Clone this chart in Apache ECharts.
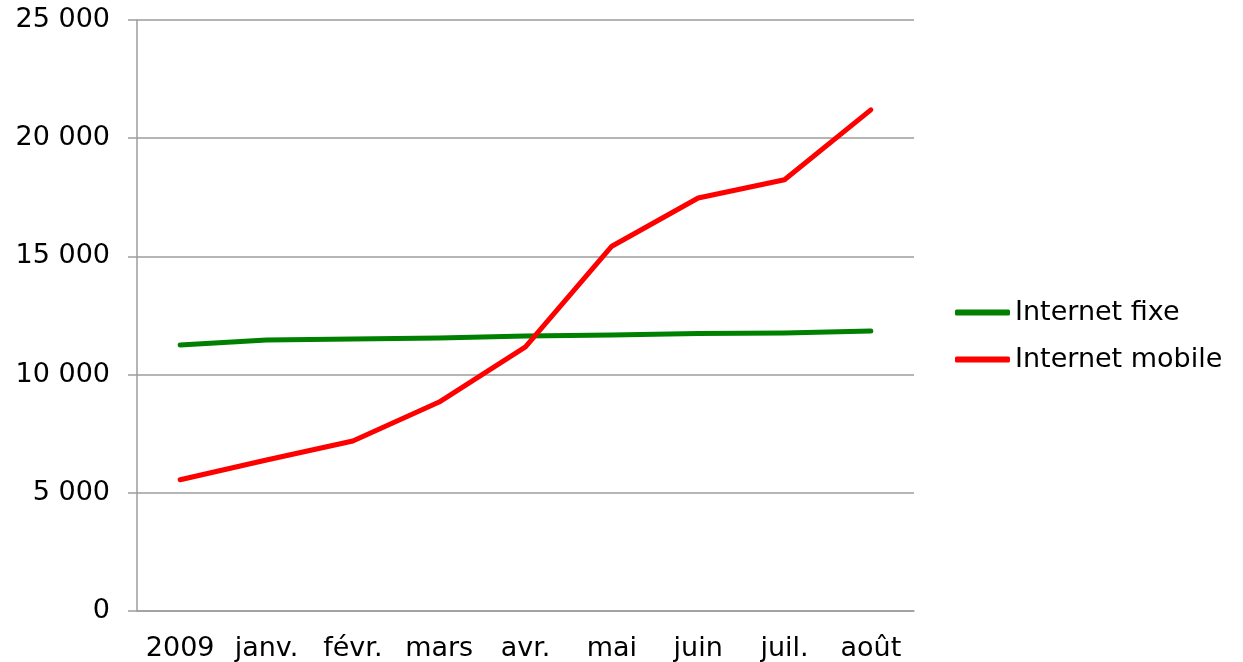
<!DOCTYPE html>
<html>
<head>
<meta charset="utf-8">
<script src="https://cdn.jsdelivr.net/npm/echarts@6/dist/echarts.min.js"></script>
<style>
  html, body { margin: 0; padding: 0; background: #fff; }
  #chart { width: 1243px; height: 662px; }
</style>
</head>
<body>
<div id="chart"></div>
<script>
const months = ['2009', 'janv.', 'févr.', 'mars', 'avr.', 'mai', 'juin', 'juil.', 'août']
const fixe = [11250, 11460, 11510, 11550, 11630, 11680, 11740, 11760, 11840]
const mobile = [5550, 6390, 7190, 8840, 11170, 15430, 17470, 18240, 21200]
const yTicks = [0, 5000, 10000, 15000, 20000, 25000]

const font = 'DejaVu Sans, Verdana, sans-serif'
const gray = '#9d9d9d'

const myChart = echarts.init(document.getElementById('chart'))

// espace comme séparateur de milliers
const fmt = v => String(v).replace(/\B(?=(\d{3})+(?!\d))/g, ' ')

const option = {
  animation: false,
  grid: { left: 137, right: 329, top: 20, bottom: 51, outerBoundsMode: 'none' },
  legend: {
    orient: 'vertical',
    left: 955,
    top: 299,
    padding: 0,
    icon: 'roundRect',
    itemWidth: 55,
    itemHeight: 6,
    itemGap: 20,
    textStyle: { fontFamily: font, fontSize: 27, color: '#000' },
    data: ['Internet fixe', 'Internet mobile']
  },
  xAxis: {
    type: 'category',
    data: months,
    boundaryGap: true,
    axisLine: { lineStyle: { color: gray, width: 1.5 } },
    axisTick: { length: 8, lineStyle: { color: gray, width: 1.5 } },
    axisLabel: { fontFamily: font, fontSize: 27, color: '#000', margin: 24, interval: 0 }
  },
  yAxis: {
    type: 'value',
    min: yTicks[0],
    max: yTicks[yTicks.length - 1],
    interval: 5000,
    axisLine: { show: true, lineStyle: { color: gray, width: 1.5 } },
    axisTick: { show: true, length: 9, lineStyle: { color: gray, width: 1.5 } },
    splitLine: { lineStyle: { color: gray, width: 1.5 } },
    axisLabel: { fontFamily: font, fontSize: 27, color: '#000', margin: 27, formatter: fmt }
  },
  series: [
    {
      name: 'Internet fixe',
      type: 'line',
      data: fixe,
      symbol: 'none',
      color: '#008000',
      lineStyle: { width: 5, color: '#008000', cap: 'round', join: 'round' }
    },
    {
      name: 'Internet mobile',
      type: 'line',
      data: mobile,
      symbol: 'none',
      color: '#ff0000',
      lineStyle: { width: 5, color: '#ff0000', cap: 'round', join: 'round' }
    }
  ]
}
option && myChart.setOption(option)
</script>
</body>
</html>
